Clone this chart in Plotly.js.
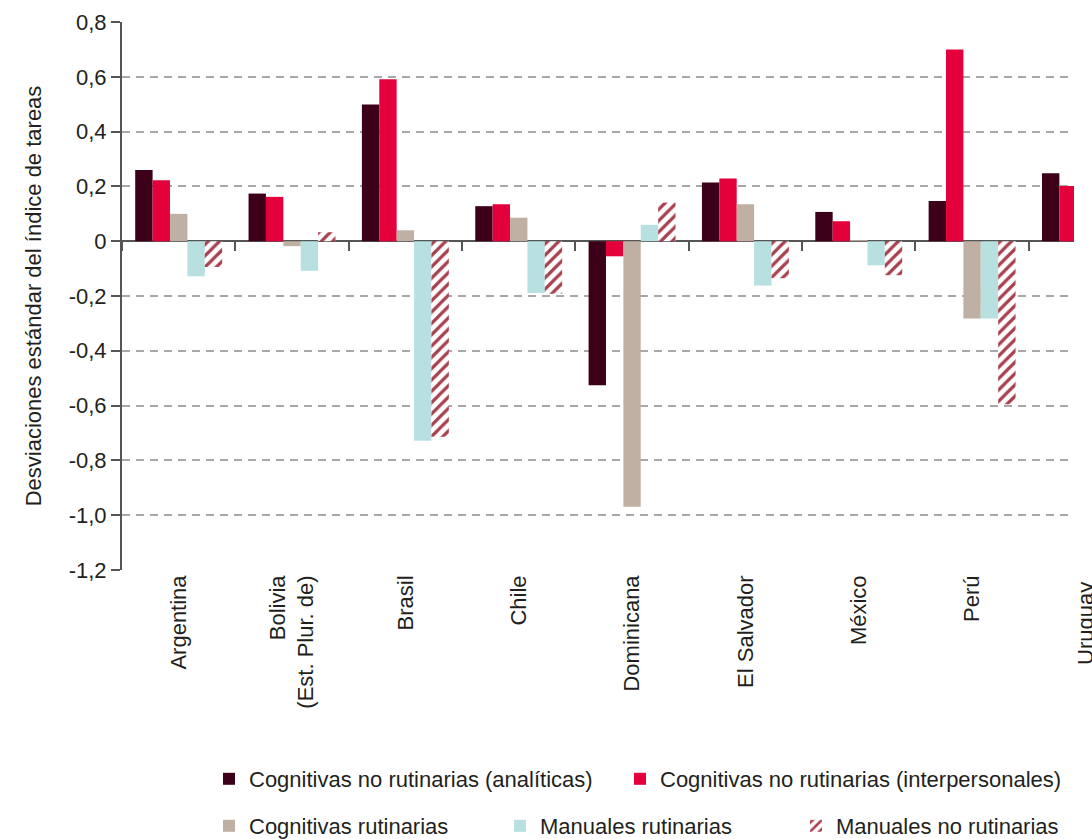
<!DOCTYPE html>
<html>
<head>
<meta charset="utf-8">
<script src="https://cdn.plot.ly/plotly-3.0.1.min.js"></script>
<style>
  html, body { margin: 0; padding: 0; overflow: hidden; background: #fff; }
  #chart { width: 1092px; height: 850px; }
</style>
</head>
<body>
<div id="chart"></div>
<script>
// ---- Data ----
const categories = ['Argentina', 'Bolivia<br>(Est. Plur. de)', 'Brasil', 'Chile', 'Dominicana', 'El Salvador', 'México', 'Perú', 'Uruguay'];
const analiticas      = [0.260, 0.174, 0.499, 0.128, -0.526, 0.214, 0.107, 0.147, 0.248];
const interpersonales = [0.223, 0.162, 0.591, 0.135, -0.055, 0.229, 0.073, 0.700, 0.202];
const cognitivasRut   = [0.100, -0.018, 0.040, 0.086, -0.970, 0.135, 0.004, -0.282, null];
const manualesRut     = [-0.128, -0.108, -0.729, -0.189, 0.060, -0.162, -0.088, -0.282, null];
const manualesNoRut   = [-0.094, 0.033, -0.714, -0.192, 0.141, -0.135, -0.124, -0.595, null];

const seriesNames = [
  'Cognitivas no rutinarias (analíticas)',
  'Cognitivas no rutinarias (interpersonales)',
  'Cognitivas rutinarias',
  'Manuales rutinarias',
  'Manuales no rutinarias'
];

const yTickVals = [0.8, 0.6, 0.4, 0.2, 0, -0.2, -0.4, -0.6, -0.8, -1.0, -1.2];
const yTickText = ['0,8', '0,6', '0,4', '0,2', '0', '-0,2', '-0,4', '-0,6', '-0,8', '-1,0', '-1,2'];

const lastLabel = 'Uruguay';

// ---- Styles / geometry ----
const W = 1092, H = 850;   // figure a little taller than the 839px window (bottom is cropped)
const FONT = 'Liberation Sans, Arial, Helvetica, sans-serif';
const TXT = '#231f20';
const AX = '#555555';
const FS = 22;
const xRange = [-0.5, 7.899];
const yRange = [-1.2005, 0.8005];
const ML = 122, MR = 18;
const plotTop = 22, plotBottom = 570;
const yDomain = [(H - plotBottom) / H, (H - plotTop) / H];
const zeroPos = yDomain[0] + (0 - yRange[0]) / (yRange[1] - yRange[0]) * (yDomain[1] - yDomain[0]);
const pw = W - ML - MR;
const px2paperX = p => (p - ML) / pw;

function bar(name, y, color, legend, extra) {
  return {
    type: 'bar', name: name, x: categories, y: y,
    marker: Object.assign({ color: color, line: { width: 0 } }, extra || {}),
    legend: legend, hoverinfo: 'x+y'
  };
}

const traces = [
  bar(seriesNames[0], analiticas, '#3d0019', 'legend'),
  bar(seriesNames[1], interpersonales, '#e4003a', 'legend2'),
  bar(seriesNames[2], cognitivasRut, '#c0b0a4', 'legend3'),
  bar(seriesNames[3], manualesRut, '#b8e0e0', 'legend4'),
  bar(seriesNames[4], manualesNoRut, '#ffffff', 'legend5', {
    pattern: { shape: '/', fgcolor: '#a8404e', bgcolor: '#ffffff', size: 8, solidity: 0.4 }
  }),
  // invisible helper trace for the boundary ticks on the zero line
  { type: 'scatter', mode: 'markers', x: categories, y: categories.map(() => 0),
    xaxis: 'x2', marker: { opacity: 0 }, showlegend: false, hoverinfo: 'skip' }
];

function leg(leftPx, centerPx) {
  return {
    orientation: 'h', x: px2paperX(leftPx), y: (H - centerPx) / H,
    xanchor: 'left', yanchor: 'middle',
    font: { size: FS, color: TXT, family: FONT }, bgcolor: 'rgba(0,0,0,0)', borderwidth: 0
  };
}

const layout = {
  width: W, height: H,
  margin: { l: ML, r: MR, t: 0, b: 0 },
  paper_bgcolor: '#ffffff', plot_bgcolor: '#ffffff',
  font: { family: FONT, color: TXT, size: FS },
  barmode: 'group', bargap: 0.233, bargroupgap: 0,
  showlegend: true,
  xaxis: {
    type: 'category', range: xRange, fixedrange: true, anchor: 'y',
    showline: false, showgrid: false, zeroline: false, ticks: '',
    tickangle: -90, tickfont: { size: FS, color: TXT }, automargin: false
  },
  xaxis2: {
    type: 'category', overlaying: 'x', anchor: 'free', position: zeroPos, side: 'bottom',
    range: xRange, showline: false, showgrid: false, zeroline: false,
    showticklabels: false, ticks: 'outside', tickson: 'boundaries',
    ticklen: 9, tickwidth: 2, tickcolor: AX, automargin: false
  },
  yaxis: {
    domain: yDomain, range: yRange, fixedrange: true,
    tickvals: yTickVals, ticktext: yTickText,
    tickfont: { size: FS, color: TXT },
    ticks: 'outside', ticklen: 9, tickwidth: 2, tickcolor: AX,
    showline: true, linecolor: AX, linewidth: 2,
    showgrid: true, gridcolor: '#a8a8a8', gridwidth: 2, griddash: '8px,6px',
    zeroline: true, zerolinecolor: AX, zerolinewidth: 2,
    automargin: 'left',
    title: { text: 'Desviaciones estándar del índice de tareas', font: { size: FS, color: TXT }, standoff: 21 }
  },
  legend:  leg(209, 779),
  legend2: leg(620, 779),
  legend3: leg(209, 826),
  legend4: leg(500, 826),
  legend5: leg(796, 826),
  annotations: [{
    text: lastLabel, xref: 'x domain', yref: 'y domain', x: px2paperX(1085.5), y: 0,
    xanchor: 'center', yanchor: 'top', yshift: -10, textangle: -90,
    showarrow: false, font: { size: FS, color: TXT }
  }]
};

Plotly.newPlot('chart', traces, layout, { displayModeBar: false, staticPlot: true });
</script>
</body>
</html>
